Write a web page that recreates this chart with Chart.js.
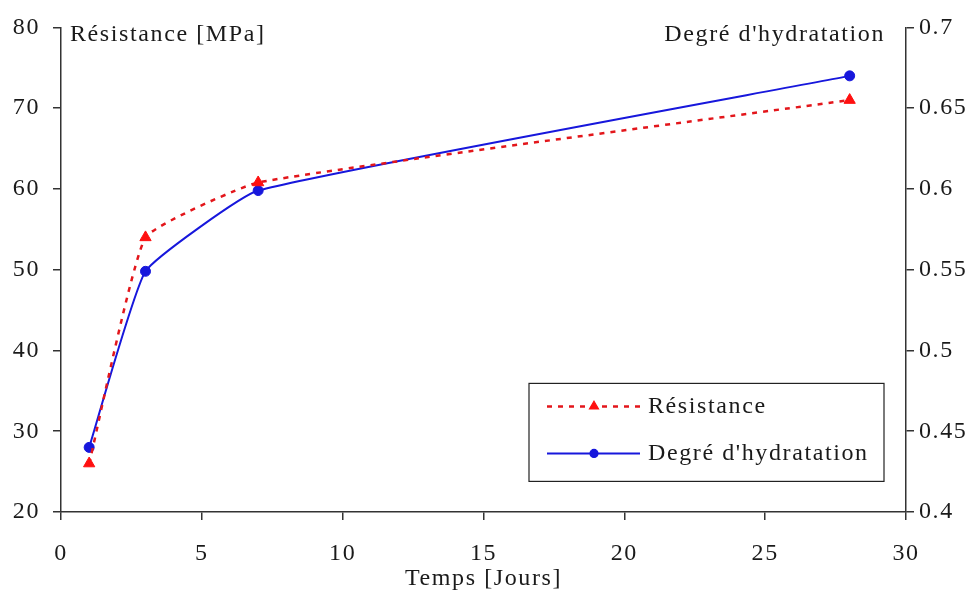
<!DOCTYPE html>
<html>
<head>
<meta charset="utf-8">
<script src="https://cdn.jsdelivr.net/npm/chart.js@4/dist/chart.umd.min.js"></script>
<style>
  html, body { margin: 0; padding: 0; background: #fff; }
  #wrap { width: 980px; height: 594px; position: relative; }
</style>
</head>
<body>
<div id="wrap"><canvas id="chart"></canvas></div>
<script>
// données
const days       = [1, 3, 7, 28];
const resistance = [26, 54, 60.8, 71];         // MPa
const hydration  = [0.44, 0.549, 0.599, 0.67]; // degré d'hydratation

const xTicks     = [0, 5, 10, 15, 20, 25, 30];
const leftTicks  = [20, 30, 40, 50, 60, 70, 80];
const rightTicks = [0.4, 0.45, 0.5, 0.55, 0.6, 0.65, 0.7];

const FONT = "'Liberation Serif', 'Times New Roman', serif";
const SIZE = 24;
const INK = '#1a1a1a';
const AXIS = '#333';
const RED = '#e3161b';
const BLUE = '#1717dc';

Chart.defaults.font.family = FONT;
Chart.defaults.font.size = SIZE;
Chart.defaults.color = INK;

const spacing = {
  id: 'spacing',
  beforeUpdate(chart) { chart.ctx.letterSpacing = '1.6px'; },
  beforeDraw(chart)   { chart.ctx.letterSpacing = '1.6px'; }
};

// textes dans la zone du tracé + légende encadrée
const annotations = {
  id: 'annotations',
  afterDraw(chart) {
    const { ctx, chartArea: a } = chart;
    ctx.save();
    ctx.font = `${SIZE}px ${FONT}`;
    ctx.fillStyle = INK;
    ctx.textBaseline = 'middle';
    ctx.textAlign = 'left';
    ctx.fillText('Résistance [MPa]', a.left + 9, a.top + 7);
    ctx.textAlign = 'right';
    ctx.fillText("Degré d'hydratation", a.right - 21, a.top + 7);

    // légende
    const bx = a.left + 468, by = a.top + 356, bw = 355, bh = 98;
    ctx.strokeStyle = '#222';
    ctx.lineWidth = 1.2;
    ctx.strokeRect(bx, by, bw, bh);

    const rows = [
      { ds: chart.data.datasets[0], y: by + 23 },
      { ds: chart.data.datasets[1], y: by + 70 }
    ];
    rows.forEach(r => {
      const ds = r.ds;
      ctx.save();
      ctx.strokeStyle = ds.borderColor;
      ctx.lineWidth = ds.borderWidth;
      ctx.setLineDash(ds.borderDash || []);
      ctx.beginPath();
      ctx.moveTo(bx + 18, r.y);
      ctx.lineTo(bx + 111, r.y);
      ctx.stroke();
      ctx.restore();
      ctx.save();
      ctx.fillStyle = ds.pointBackgroundColor;
      ctx.strokeStyle = ds.pointBorderColor;
      Chart.helpers.drawPoint(ctx, {
        pointStyle: ds.pointStyle,
        radius: ds.pointRadius * 0.8,
        borderWidth: 1
      }, bx + 65, r.y);
      ctx.restore();
      ctx.fillStyle = INK;
      ctx.textAlign = 'left';
      ctx.fillText(ds.label, bx + 119, r.y);
    });
    ctx.restore();
  }
};

function axisGrid() {
  return {
    display: true,
    drawOnChartArea: false,
    drawTicks: true,
    tickLength: 8,
    color: AXIS,
    lineWidth: 1.5
  };
}

const ctx = document.getElementById('chart').getContext('2d');
window.hydrationChart = new Chart(ctx, {
  type: 'line',
  data: {
    datasets: [
      {
        label: 'Résistance',
        data: days.map((d, i) => ({ x: d, y: resistance[i] })),
        yAxisID: 'y',
        borderColor: RED,
        backgroundColor: RED,
        borderWidth: 2.5,
        borderDash: [5, 6],
        pointStyle: 'triangle',
        pointRadius: 6.5,
        pointBorderWidth: 1,
        pointBackgroundColor: '#ff1010',
        pointBorderColor: '#ff1010',
        tension: 0.12,
        fill: false
      },
      {
        label: "Degré d'hydratation",
        data: days.map((d, i) => ({ x: d, y: hydration[i] })),
        yAxisID: 'y1',
        borderColor: BLUE,
        backgroundColor: BLUE,
        borderWidth: 2,
        pointStyle: 'circle',
        pointRadius: 5,
        pointBorderWidth: 1,
        pointBackgroundColor: BLUE,
        pointBorderColor: BLUE,
        tension: 0.12,
        fill: false
      }
    ]
  },
  options: {
    responsive: true,
    maintainAspectRatio: false,
    animation: false,
    locale: 'en-US',
    layout: { padding: { top: 24, left: 0, right: 0, bottom: 0 } },
    plugins: {
      legend: { display: false },
      tooltip: { enabled: false }
    },
    scales: {
      x: {
        type: 'linear',
        min: 0, max: 30,
        afterBuildTicks: s => { s.ticks = xTicks.map(v => ({ value: v })); },
        afterFit: s => { s.height = 82; },
        ticks: { padding: 19, color: INK },
        grid: axisGrid(),
        border: { display: true, color: AXIS, width: 1.5 },
        title: {
          display: true,
          text: 'Temps [Jours]',
          color: INK,
          font: { size: SIZE },
          padding: { top: 0, bottom: 1 }
        }
      },
      y: {
        position: 'left',
        min: 20, max: 80,
        afterBuildTicks: s => { s.ticks = leftTicks.map(v => ({ value: v })); },
        afterFit: s => { s.width = 61; },
        ticks: { padding: 13, color: INK },
        grid: axisGrid(),
        border: { display: true, color: AXIS, width: 1.5 }
      },
      y1: {
        position: 'right',
        min: 0.4, max: 0.7,
        afterBuildTicks: s => { s.ticks = rightTicks.map(v => ({ value: v })); },
        afterFit: s => { s.width = 74; },
        ticks: { padding: 5, color: INK, callback: v => String(+v.toFixed(2)) },
        grid: axisGrid(),
        border: { display: true, color: AXIS, width: 1.5 }
      }
    }
  },
  plugins: [spacing, annotations]
});
</script>
</body>
</html>
